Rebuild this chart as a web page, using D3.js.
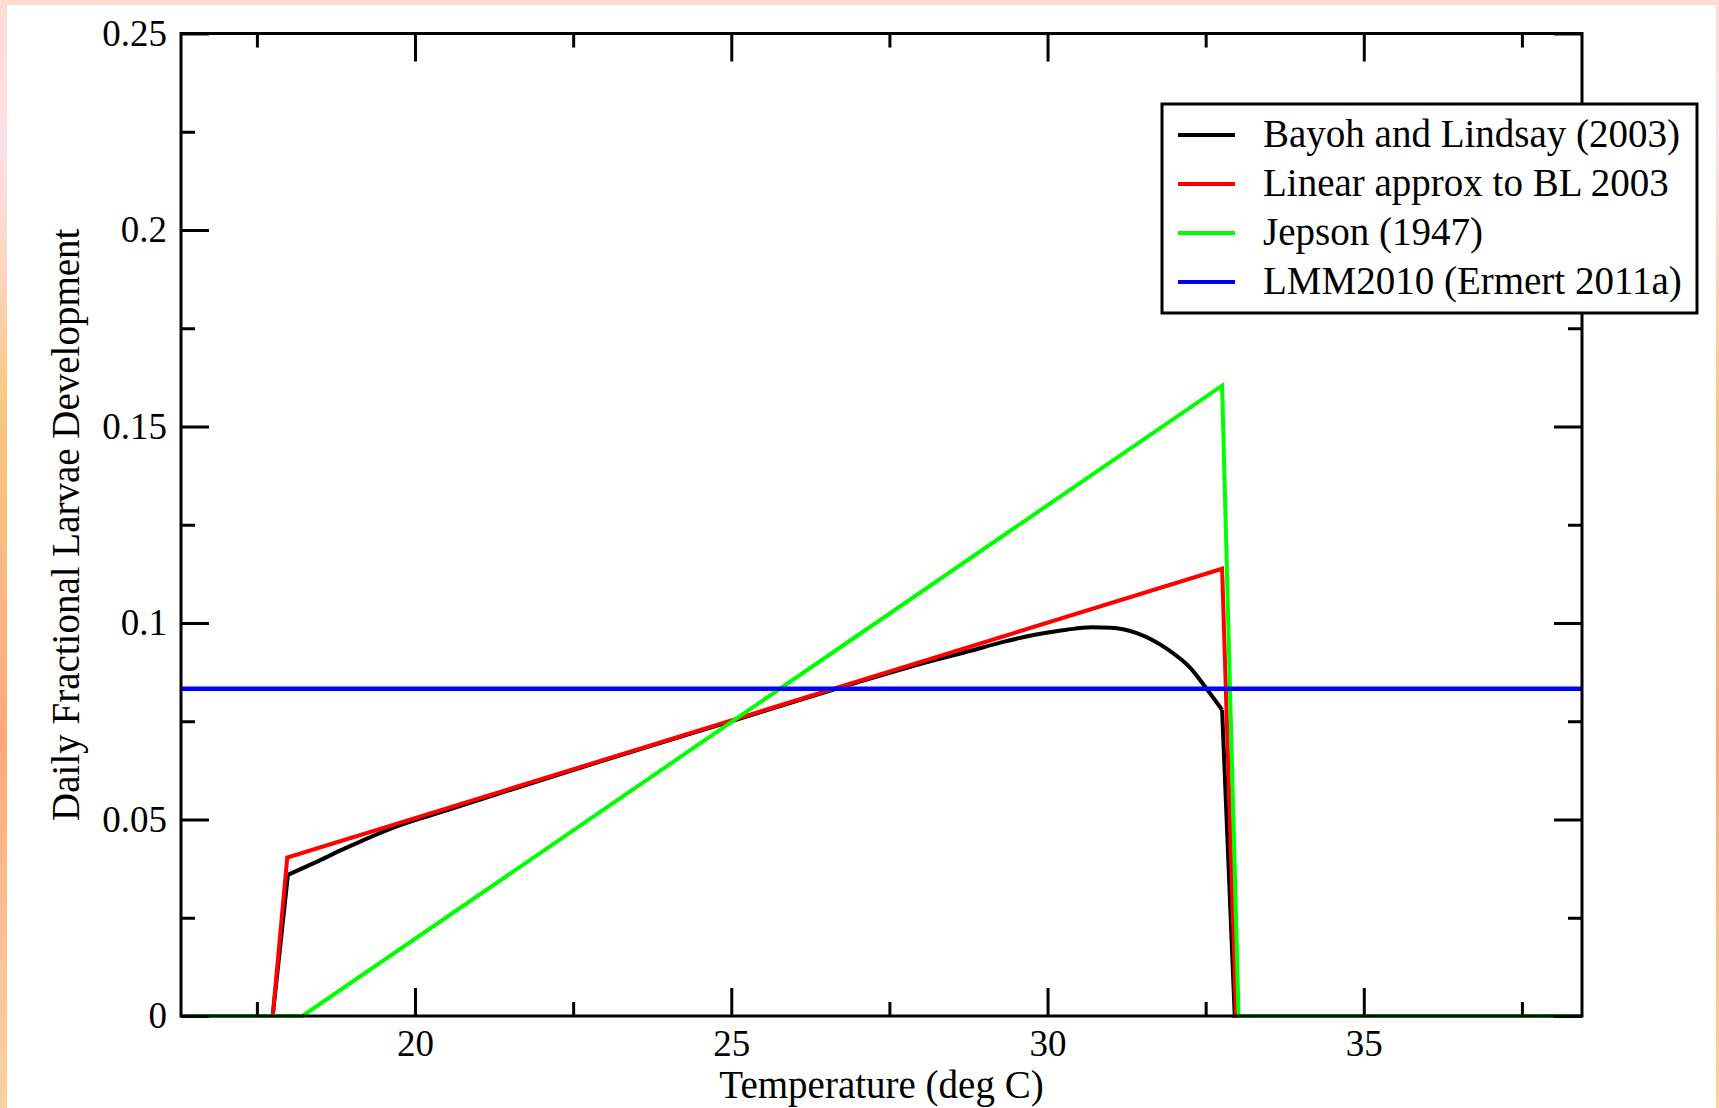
<!DOCTYPE html>
<html>
<head>
<meta charset="utf-8">
<script src="https://cdn.jsdelivr.net/npm/d3@7"></script>
<style>
  html, body { margin: 0; padding: 0; }
  body {
    width: 1719px; height: 1108px; overflow: hidden;
    background: linear-gradient(to bottom, #fddcd2 0%, #fde1ea 13%, #fcd5bb 25%, #f9c880 36%, #f9bb82 50%, #ffa87a 67%, #fbbf90 83%, #f9d49c 100%);
  }
  #page { position: absolute; left: 7px; top: 5px; width: 1709px; height: 1103px; background: #fff; }
  svg { position: absolute; left: 0; top: 0; }
  text { font-family: "Liberation Serif", "Times New Roman", serif; fill: #000; }
</style>
</head>
<body>
<div id="page"></div>
<svg id="chart" width="1719" height="1108"></svg>
<script>
// temperatures (deg C) and daily fractional larvae development
const bayohTemp = [16.3, 17.75, 17.99, 18.4, 18.9, 19.7, 20.5, 21.5, 23, 25, 27, 28, 28.8, 29.3, 29.8, 30.3, 30.7, 31.0, 31.4, 31.9, 32.25, 32.5, 32.76, 32.96, 38.45];
const bayohRate = [0, 0, 0.0359, 0.0389, 0.0427, 0.0482, 0.0523, 0.0575, 0.0651, 0.0750, 0.0849, 0.0896, 0.0930, 0.0952, 0.0970, 0.0983, 0.0989, 0.0988, 0.0975, 0.0933, 0.0887, 0.0836, 0.0779, 0, 0];
const linearTemp = [16.3, 17.75, 17.98, 32.76, 32.98, 38.45];
const linearRate = [0, 0, 0.0403, 0.1138, 0, 0];
const jepsonTemp = [16.3, 18.22, 32.76, 33.02, 38.45];
const jepsonRate = [0, 0, 0.1604, 0, 0];
const lmmTemp = [16.3, 38.45];
const lmmRate = [0.0833, 0.0833];

const xMajor = [20, 25, 30, 35];
const xMinor = [17.5, 22.5, 27.5, 32.5, 37.5];
const yMajor = [0, 0.05, 0.1, 0.15, 0.2, 0.25];
const yMinor = [0.025, 0.075, 0.125, 0.175, 0.225];

const legendLabels = ["Bayoh and Lindsay (2003)", "Linear approx to BL 2003", "Jepson (1947)", "LMM2010 (Ermert 2011a)"];
const seriesColors = ["#000000", "#ff0000", "#00ff00", "#0000ff"];

const plotLeft = 181, plotRight = 1582, plotTop = 33.5, plotBottom = 1016;

const svg = d3.select("#chart");
const x = d3.scaleLinear().domain([16.3, 38.45]).range([plotLeft, plotRight]);
const y = d3.scaleLinear().domain([0, 0.25]).range([plotBottom, plotTop]);

const zip = (ts, vs) => ts.map((t, i) => ({ t: t, v: vs[i] }));
const line = d3.line().x(d => x(d.t)).y(d => y(d.v));
const smooth = d3.line().x(d => x(d.t)).y(d => y(d.v)).curve(d3.curveMonotoneX);

const plot = svg.append("g").attr("fill", "none").attr("stroke-linejoin", "miter");

// black curve: sharp corners at the ends, smooth between them
const bayoh = zip(bayohTemp, bayohRate);
plot.append("path").attr("d", line(bayoh.slice(0, 3))).attr("stroke", seriesColors[0]).attr("stroke-width", 4);
plot.append("path").attr("d", smooth(bayoh.slice(2, 23))).attr("stroke", seriesColors[0]).attr("stroke-width", 4);
plot.append("path").attr("d", line(bayoh.slice(22))).attr("stroke", seriesColors[0]).attr("stroke-width", 4);

plot.append("path").attr("d", line(zip(linearTemp, linearRate))).attr("stroke", seriesColors[1]).attr("stroke-width", 4);
plot.append("path").attr("d", line(zip(jepsonTemp, jepsonRate))).attr("stroke", seriesColors[2]).attr("stroke-width", 4);
plot.append("path").attr("d", line(zip(lmmTemp, lmmRate))).attr("stroke", seriesColors[3]).attr("stroke-width", 4.5);

// frame
svg.append("rect")
    .attr("x", plotLeft).attr("y", plotTop)
    .attr("width", plotRight - plotLeft).attr("height", plotBottom - plotTop)
    .attr("fill", "none").attr("stroke", "#000").attr("stroke-width", 3);

// ticks, inward on all four sides
function ticks(g, axis) {
    g.call(axis);
    g.select(".domain").remove();
    g.selectAll(".tick line").attr("stroke", "#000").attr("stroke-width", 3);
}

ticks(svg.append("g").attr("transform", `translate(0,${plotBottom})`),
    d3.axisBottom(x).tickValues(xMajor).tickSize(-28).tickPadding(14).tickFormat(d3.format("d")));
ticks(svg.append("g").attr("transform", `translate(0,${plotBottom})`),
    d3.axisBottom(x).tickValues(xMinor).tickSize(-14).tickFormat(""));
ticks(svg.append("g").attr("transform", `translate(0,${plotTop})`),
    d3.axisTop(x).tickValues(xMajor).tickSize(-28).tickFormat(""));
ticks(svg.append("g").attr("transform", `translate(0,${plotTop})`),
    d3.axisTop(x).tickValues(xMinor).tickSize(-14).tickFormat(""));
ticks(svg.append("g").attr("transform", `translate(${plotLeft},0)`),
    d3.axisLeft(y).tickValues(yMajor).tickSize(-28).tickPadding(14).tickFormat(d => String(+d.toFixed(3))));
ticks(svg.append("g").attr("transform", `translate(${plotLeft},0)`),
    d3.axisLeft(y).tickValues(yMinor).tickSize(-14).tickFormat(""));
ticks(svg.append("g").attr("transform", `translate(${plotRight},0)`),
    d3.axisRight(y).tickValues(yMajor).tickSize(-28).tickFormat(""));
ticks(svg.append("g").attr("transform", `translate(${plotRight},0)`),
    d3.axisRight(y).tickValues(yMinor).tickSize(-14).tickFormat(""));

svg.selectAll(".tick text")
    .style("font-family", '"Liberation Serif", "Times New Roman", serif')
    .style("font-size", "37px")
    .attr("fill", "#000");

// axis titles
svg.append("text")
    .attr("x", (plotLeft + plotRight) / 2).attr("y", 1098)
    .attr("text-anchor", "middle")
    .style("font-size", "39px")
    .text("Temperature (deg C)");

svg.append("text")
    .attr("transform", `translate(79,${(plotTop + plotBottom) / 2}) rotate(-90)`)
    .attr("text-anchor", "middle")
    .style("font-size", "39px")
    .text("Daily Fractional Larvae Development");

// legend
const legend = svg.append("g");
legend.append("rect")
    .attr("x", 1162).attr("y", 104).attr("width", 535).attr("height", 209)
    .attr("fill", "#fff").attr("stroke", "#000").attr("stroke-width", 3);

legendLabels.forEach((label, i) => {
    const ly = 135 + i * 49;
    legend.append("line")
        .attr("x1", 1178).attr("x2", 1235).attr("y1", ly).attr("y2", ly)
        .attr("stroke", seriesColors[i]).attr("stroke-width", 4);
    legend.append("text")
        .attr("x", 1263).attr("y", ly + 12)
        .style("font-size", "39px")
        .text(label);
});
</script>
</body>
</html>
